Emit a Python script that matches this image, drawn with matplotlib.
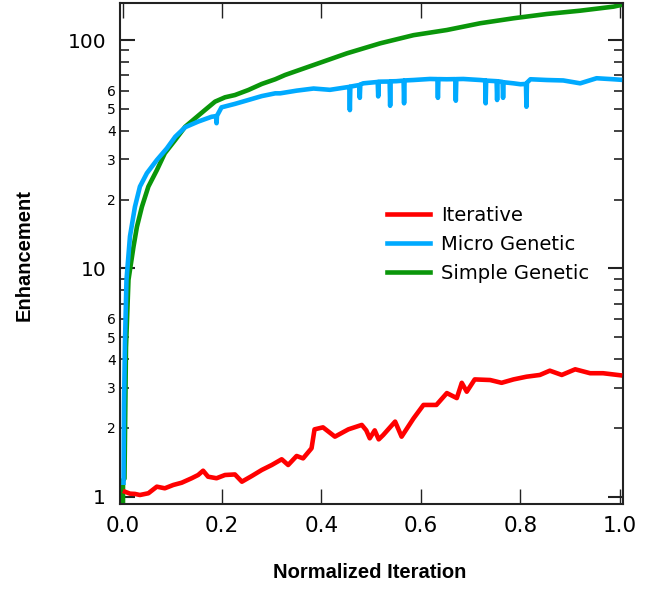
#!/usr/bin/env python3
"""Enhancement vs normalized iteration for three optimisation strategies."""

import matplotlib
matplotlib.use("Agg")
import matplotlib.pyplot as plt
from matplotlib.ticker import FixedLocator, FixedFormatter

# --- data ------------------------------------------------------------------
iter_x = [0.005, 0.015, 0.025, 0.035, 0.052, 0.069, 0.085, 0.102, 0.119, 0.139,
          0.152, 0.162, 0.172, 0.189, 0.206, 0.226, 0.240, 0.260, 0.280, 0.300,
          0.320, 0.333, 0.350, 0.363, 0.380, 0.386, 0.403, 0.427, 0.454, 0.481,
          0.490, 0.497, 0.507, 0.515, 0.524, 0.548, 0.561, 0.585, 0.605, 0.631,
          0.652, 0.672, 0.682, 0.692, 0.708, 0.739, 0.762, 0.786, 0.812, 0.839,
          0.859, 0.883, 0.910, 0.940, 0.966, 1.000]
iter_y = [1.05, 1.03, 1.027, 1.016, 1.034, 1.105, 1.087, 1.124, 1.15, 1.203,
          1.243, 1.298, 1.222, 1.203, 1.243, 1.25, 1.162, 1.231, 1.308, 1.375,
          1.457, 1.375, 1.506, 1.47, 1.628, 1.97, 2.01, 1.83, 1.97, 2.06,
          1.95, 1.80, 1.95, 1.78, 1.86, 2.13, 1.83, 2.20, 2.52, 2.52,
          2.84, 2.70, 3.15, 2.88, 3.26, 3.24, 3.15, 3.26, 3.35, 3.41,
          3.56, 3.41, 3.61, 3.47, 3.47, 3.40]

micro_x = [0.002, 0.003, 0.005, 0.008, 0.015, 0.025, 0.035, 0.049, 0.069, 0.089,
           0.106, 0.126, 0.152, 0.179, 0.188, 0.189, 0.190, 0.199, 0.226, 0.253,
           0.280, 0.307, 0.317, 0.350, 0.384, 0.417, 0.451, 0.456, 0.457, 0.458,
           0.476, 0.477, 0.478, 0.484, 0.513, 0.514, 0.515, 0.517, 0.537, 0.538,
           0.539, 0.550, 0.565, 0.566, 0.567, 0.585, 0.618, 0.633, 0.634, 0.635,
           0.652, 0.669, 0.670, 0.671, 0.685, 0.719, 0.729, 0.730, 0.731, 0.752,
           0.753, 0.754, 0.764, 0.765, 0.766, 0.786, 0.800, 0.811, 0.812, 0.813,
           0.820, 0.853, 0.886, 0.920, 0.953, 0.987, 1.000]
micro_y = [1.15, 2.5, 4.8, 8.9, 13.8, 18.6, 22.8, 26.1, 29.8, 33.5,
           37.7, 41.5, 43.9, 46.1, 46.4, 43.2, 46.6, 50.7, 52.5, 54.6,
           56.8, 58.4, 58.4, 60.0, 61.3, 60.5, 62.1, 62.3, 49.3, 62.5,
           63.5, 55.8, 63.8, 64.6, 65.5, 56.6, 65.6, 65.7, 65.8, 51.5,
           65.9, 66.0, 66.4, 52.8, 66.5, 66.8, 67.5, 67.4, 55.8, 67.4,
           67.3, 67.4, 54.2, 67.4, 67.5, 66.8, 66.5, 52.8, 66.4, 66.0,
           54.6, 66.0, 65.5, 55.8, 65.3, 64.6, 64.0, 64.2, 51.0, 65.0,
           67.3, 66.8, 66.5, 64.6, 68.0, 67.3, 67.0]

simple_x = [0.001, 0.001, 0.004, 0.007, 0.012, 0.022, 0.029, 0.039, 0.052, 0.069,
            0.085, 0.106, 0.126, 0.146, 0.166, 0.186, 0.206, 0.226, 0.253, 0.280,
            0.307, 0.327, 0.384, 0.451, 0.518, 0.585, 0.652, 0.719, 0.786, 0.853,
            0.920, 0.987, 1.000]
simple_y = [0.93, 1.18, 1.2, 4.5, 8.9, 12.4, 15.2, 18.6, 22.8, 26.9,
            31.9, 36.5, 41.7, 45.4, 49.4, 53.7, 56.1, 57.4, 60.4, 64.2,
            67.3, 70.3, 77.7, 87.4, 96.7, 105.0, 110.6, 118.4, 124.5, 130.0,
            134.4, 140.0, 142.0]

series_labels = ["Iterative", "Micro Genetic", "Simple Genetic"]

x_ticks = [0.0, 0.2, 0.4, 0.6, 0.8, 1.0]
x_tick_labels = ["0.0", "0.2", "0.4", "0.6", "0.8", "1.0"]
y_major = [1, 10, 100]
y_major_labels = ["1", "10", "100"]
y_minor = [2, 3, 4, 5, 6, 7, 8, 9, 20, 30, 40, 50, 60, 70, 80, 90]
y_minor_labels = ["2", "3", "4", "5", "6", "", "", "",
                  "2", "3", "4", "5", "6", "", "", ""]


def main() -> None:
    fig = plt.figure(figsize=(6.53, 5.90), dpi=100)
    ax = fig.add_axes([0.1838, 0.1458, 0.7702, 0.8486])

    lw = 3.3
    ax.plot(iter_x, iter_y, color="#ff0000", lw=lw, label=series_labels[0], zorder=3)
    ax.plot(micro_x, micro_y, color="#00aaff", lw=lw, label=series_labels[1], zorder=3)
    ax.plot(simple_x, simple_y, color="#0a960a", lw=lw, label=series_labels[2], zorder=2)

    ax.set_yscale("log")
    ax.set_xlim(-0.005, 1.006)
    ax.set_ylim(0.928, 144.8)

    ax.xaxis.set_major_locator(FixedLocator(x_ticks))
    ax.xaxis.set_major_formatter(FixedFormatter(x_tick_labels))
    ax.xaxis.set_minor_locator(FixedLocator([]))
    ax.yaxis.set_major_locator(FixedLocator(y_major))
    ax.yaxis.set_major_formatter(FixedFormatter(y_major_labels))
    ax.yaxis.set_minor_locator(FixedLocator(y_minor))
    ax.yaxis.set_minor_formatter(FixedFormatter(y_minor_labels))

    ax.tick_params(which="both", direction="in", top=True, right=True,
                   color="#222222")
    ax.tick_params(axis="x", which="major", length=11, width=1.0, pad=9,
                   labelsize=15.5)
    ax.tick_params(axis="y", which="major", length=11, width=1.5, pad=10,
                   labelsize=14.5)
    ax.tick_params(axis="y", which="minor", length=6.5, width=1.2, pad=3,
                   labelsize=10)
    for s in ax.spines.values():
        s.set_linewidth(1.5)
        s.set_color("#222222")

    lab_font = {"family": "Liberation Sans", "weight": "bold", "size": 14.5}
    fig.text(370 / 653, 1 - 573 / 590, "Normalized Iteration", ha="center",
             va="center", fontdict=lab_font)
    fig.text(24 / 653, 1 - 255 / 590, "Enhancement", ha="center", va="center",
             rotation=90, fontdict=lab_font)

    ax.legend(loc="upper left", bbox_to_anchor=(387 / 653, 1 - 206 / 590),
              bbox_transform=fig.transFigure, frameon=False, fontsize=14,
              handlelength=2.2, handletextpad=0.6, labelspacing=0.52,
              borderpad=0, borderaxespad=0)

    fig.savefig("out.png", dpi=100)
    plt.close(fig)


if __name__ == "__main__":
    main()
